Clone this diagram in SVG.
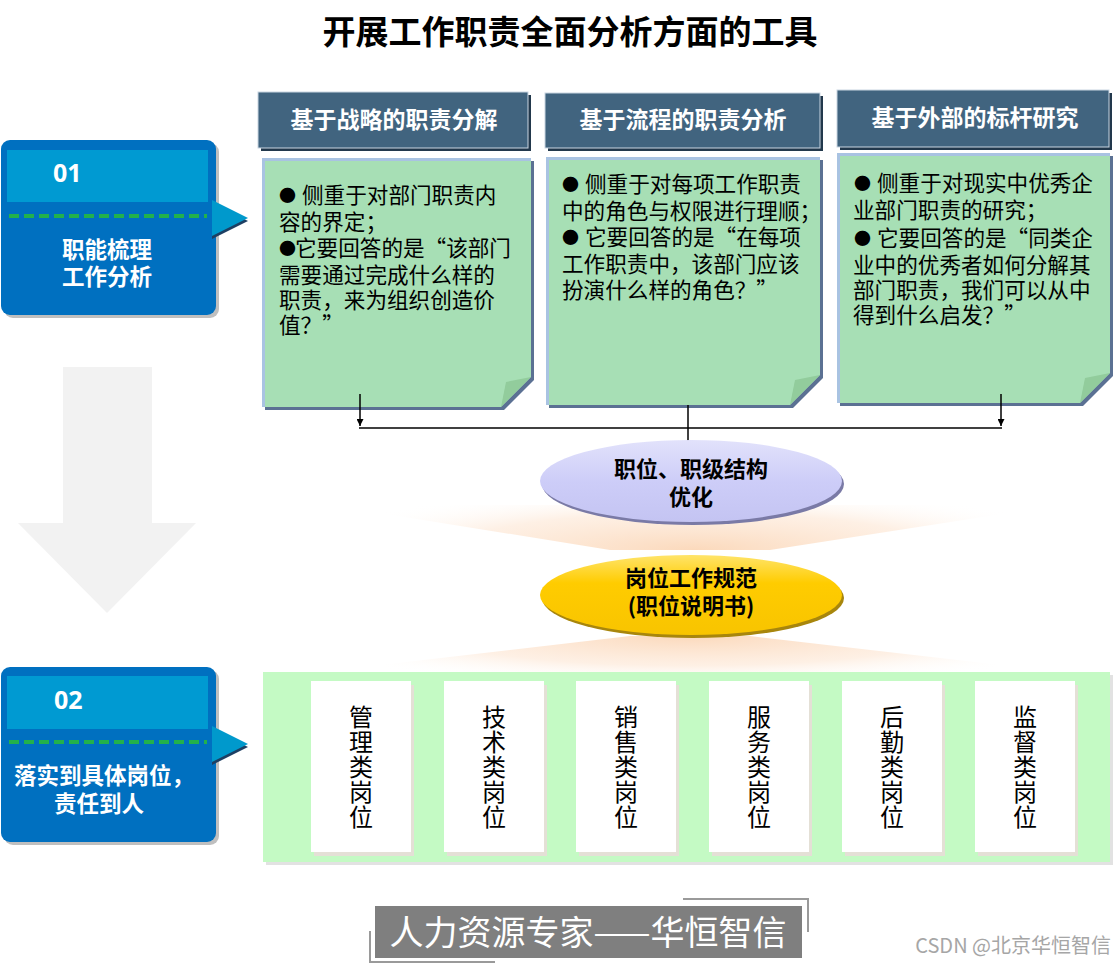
<svg xmlns="http://www.w3.org/2000/svg" width="1115" height="967" viewBox="0 0 1115 967">
<defs>
<style>
.cjk{font-family:"Noto Sans CJK SC","Liberation Sans",sans-serif;}
.title{font-size:33px;font-weight:bold;fill:#000;}
.hdr{font-size:23px;font-weight:bold;fill:#fff;}
.note{font-size:21.6px;fill:#000;}
.bul{font-size:17px;}
.side{font-size:22.5px;font-weight:bold;fill:#fff;}
.num{font-family:"Open Sans","Liberation Sans",sans-serif;font-size:25px;font-weight:bold;fill:#fff;}
.ell{font-size:22px;font-weight:bold;fill:#000;}
.vert{font-size:24px;fill:#000;writing-mode:vertical-rl;letter-spacing:1px;}
.hshadow{fill:#22384c;}
.hbox{fill:#41647f;stroke:#c9d5e2;stroke-width:1;}
.nshadow{fill:#5b7193;}
.nbox{fill:#a7dfb5;}
.nedge{fill:none;stroke:#a9c3e2;stroke-width:3;}
.fold{fill:#92cc9c;}
.card{fill:#fff;}
.cshadow{fill:#e4e0d6;}
.conn{stroke:#000;stroke-width:1.5;fill:none;}
</style>
<marker id="arr" viewBox="0 0 10 10" refX="10" refY="5" markerWidth="7" markerHeight="7" markerUnits="userSpaceOnUse" orient="auto">
<path d="M0,0 L10,5 L0,10 Z" fill="#000"/>
</marker>
<linearGradient id="lav" x1="0" y1="0" x2="0" y2="1">
<stop offset="0" stop-color="#e2e2fb"/>
<stop offset="0.5" stop-color="#cdcdf8"/>
<stop offset="1" stop-color="#c4c4f2"/>
</linearGradient>
<linearGradient id="gold" x1="0" y1="0" x2="0" y2="1">
<stop offset="0" stop-color="#ffe46a"/>
<stop offset="0.35" stop-color="#ffcc00"/>
<stop offset="1" stop-color="#f8c400"/>
</linearGradient>
<radialGradient id="peach1" cx="0.5" cy="1" r="0.55" gradientTransform="translate(0.5 1) scale(1 2.5) translate(-0.5 -1)">
<stop offset="0" stop-color="#fbd7b8" stop-opacity="0.95"/>
<stop offset="0.6" stop-color="#fde6d3" stop-opacity="0.6"/>
<stop offset="1" stop-color="#ffffff" stop-opacity="0"/>
</radialGradient>
<radialGradient id="peach2" cx="0.5" cy="0" r="0.55" gradientTransform="translate(0.5 0) scale(1 2.5) translate(-0.5 0)">
<stop offset="0" stop-color="#fbd7b8" stop-opacity="0.95"/>
<stop offset="0.6" stop-color="#fde6d3" stop-opacity="0.6"/>
<stop offset="1" stop-color="#ffffff" stop-opacity="0"/>
</radialGradient>
</defs>
<rect width="1115" height="967" fill="#fff"/>

<text class="cjk title" x="570" y="44" text-anchor="middle">开展工作职责全面分析方面的工具</text>

<!-- big gray arrow -->
<polygon id="bigArrow" points="63,367 152,367 152,523 196,523 107,613 18,523 63,523" fill="#f2f2f2"/>

<!-- side box 01 -->
<g id="side01">
<rect x="4" y="143" width="215" height="175" rx="9" fill="#8a8a8a" opacity="0.55"/>
<rect x="1" y="140" width="215" height="175" rx="9" fill="#0070c0"/>
<rect x="7" y="150" width="201" height="52" fill="#009ad2"/>
<line x1="9" y1="216" x2="207" y2="216" stroke="#22b14c" stroke-width="4" stroke-dasharray="10,5"/>
<polygon points="212,203 248,221 212,239" fill="#1d3f63"/>
<polygon points="212,200 248,218 212,236" fill="#0099cc"/>
<text class="num" x="53" y="182">01</text>
<text class="cjk side" x="107" y="258" text-anchor="middle">职能梳理</text>
<text class="cjk side" x="107" y="285" text-anchor="middle">工作分析</text>
</g>

<!-- side box 02 -->
<g id="side02">
<rect x="4" y="670" width="215" height="175" rx="9" fill="#8a8a8a" opacity="0.55"/>
<rect x="1" y="667" width="215" height="175" rx="9" fill="#0070c0"/>
<rect x="7" y="676" width="201" height="53" fill="#009ad2"/>
<line x1="9" y1="742" x2="207" y2="742" stroke="#22b14c" stroke-width="4" stroke-dasharray="10,5"/>
<polygon points="212,729 248,747 212,765" fill="#1d3f63"/>
<polygon points="212,726 248,744 212,762" fill="#0099cc"/>
<text class="num" x="54" y="709">02</text>
<text class="cjk side" x="104" y="784" text-anchor="middle">落实到具体岗位，</text>
<text class="cjk side" x="99" y="812" text-anchor="middle">责任到人</text>
</g>

<!-- header 1 + note 1 -->
<g id="col1">
<rect class="hshadow" x="261" y="95" width="270" height="56"/>
<rect class="hbox" x="258" y="92" width="270" height="56"/>
<text class="cjk hdr" x="394" y="128" text-anchor="middle">基于战略的职责分解</text>
<path class="nshadow" d="M265,161 H534 V380 L504,410 H265 Z"/>
<path class="nbox" d="M262,158 H531 V377 L501,407 H262 Z"/>
<path class="nedge" d="M263.5,407 V159.5 H531"/>
<polygon class="fold" points="501,407 506,382 531,377"/>
<text class="cjk note">
<tspan class="bul" x="279" y="202">●</tspan><tspan x="302" y="203">侧重于对部门职责内</tspan>
<tspan x="279" y="230">容的界定；</tspan>
<tspan class="bul" x="279" y="255">●</tspan><tspan x="295" y="256">它要回答的是“该部门</tspan>
<tspan x="279" y="283">需要通过完成什么样的</tspan>
<tspan x="279" y="308">职责，来为组织创造价</tspan>
<tspan x="279" y="333">值？”</tspan>
</text>
</g>

<!-- header 2 + note 2 -->
<g id="col2">
<rect class="hshadow" x="548" y="96" width="275" height="55"/>
<rect class="hbox" x="545" y="93" width="275" height="55"/>
<text class="cjk hdr" x="683" y="128" text-anchor="middle">基于流程的职责分析</text>
<path class="nshadow" d="M549,160 H823 V378 L793,408 H549 Z"/>
<path class="nbox" d="M546,157 H820 V375 L790,405 H546 Z"/>
<path class="nedge" d="M547.5,405 V158.5 H820"/>
<polygon class="fold" points="790,405 795,380 820,375"/>
<text class="cjk note">
<tspan class="bul" x="562" y="191">●</tspan><tspan x="585" y="192">侧重于对每项工作职责</tspan>
<tspan x="562" y="219">中的角色与权限进行理顺；</tspan>
<tspan class="bul" x="562" y="244">●</tspan><tspan x="585" y="245">它要回答的是“在每项</tspan>
<tspan x="562" y="272">工作职责中，该部门应该</tspan>
<tspan x="562" y="298">扮演什么样的角色？”</tspan>
</text>
</g>

<!-- header 3 + note 3 -->
<g id="col3">
<rect class="hshadow" x="840" y="93" width="272" height="57"/>
<rect class="hbox" x="837" y="90" width="272" height="57"/>
<text class="cjk hdr" x="975" y="126" text-anchor="middle">基于外部的标杆研究</text>
<path class="nshadow" d="M840,156 H1113 V376 L1083,406 H840 Z"/>
<path class="nbox" d="M837,153 H1110 V373 L1080,403 H837 Z"/>
<path class="nedge" d="M838.5,403 V154.5 H1110"/>
<polygon class="fold" points="1080,403 1085,378 1110,373"/>
<text class="cjk note">
<tspan class="bul" x="854" y="190">●</tspan><tspan x="877" y="191">侧重于对现实中优秀企</tspan>
<tspan x="853" y="218">业部门职责的研究；</tspan>
<tspan class="bul" x="854" y="245">●</tspan><tspan x="877" y="246">它要回答的是“同类企</tspan>
<tspan x="853" y="273">业中的优秀者如何分解其</tspan>
<tspan x="853" y="298">部门职责，我们可以从中</tspan>
<tspan x="853" y="323">得到什么启发？”</tspan>
</text>
</g>

<!-- connectors -->
<g id="connectors">
<line class="conn" x1="360" y1="394" x2="360" y2="426" marker-end="url(#arr)"/>
<line class="conn" x1="1001" y1="394" x2="1001" y2="426" marker-end="url(#arr)"/>
<line class="conn" x1="359" y1="428" x2="1002" y2="428"/>
<line class="conn" x1="688" y1="405" x2="688" y2="448" marker-end="url(#arr)"/>
</g>

<!-- peach glows -->
<polygon id="glow1" points="330,505 1060,505 770,550 610,550" fill="url(#peach1)"/>
<polygon id="glow2" points="630,636 750,636 1060,672 320,672" fill="url(#peach2)"/>

<!-- ellipse 1 -->
<g id="ell1">
<ellipse cx="693" cy="484" rx="151" ry="41" fill="#7a7aa6"/>
<ellipse cx="691" cy="481" rx="151" ry="41" fill="url(#lav)"/>
<text class="cjk ell" x="691" y="477" text-anchor="middle">职位、职级结构</text>
<text class="cjk ell" x="691" y="505" text-anchor="middle">优化</text>
</g>

<!-- ellipse 2 -->
<g id="ell2">
<ellipse cx="693" cy="598" rx="151" ry="40" fill="#a8860c"/>
<ellipse cx="691" cy="595" rx="151" ry="40" fill="url(#gold)"/>
<text class="cjk ell" x="691" y="586" text-anchor="middle">岗位工作规范</text>
<text class="cjk ell" x="691" y="614" text-anchor="middle">(职位说明书)</text>
</g>

<!-- bottom panel -->
<g id="panel">
<rect x="266" y="675" width="847" height="190" fill="#e2e2e2"/>
<rect x="263" y="672" width="847" height="190" fill="#c4fac4"/>
</g>
<g id="card1">
<rect class="cshadow" x="314" y="685" width="100" height="171"/>
<rect class="card" x="311" y="681" width="100" height="171"/>
<text class="cjk vert" x="361" y="705">管理类岗位</text>
</g>
<g id="card2">
<rect class="cshadow" x="447" y="685" width="100" height="171"/>
<rect class="card" x="444" y="681" width="100" height="171"/>
<text class="cjk vert" x="494" y="705">技术类岗位</text>
</g>
<g id="card3">
<rect class="cshadow" x="579" y="685" width="100" height="171"/>
<rect class="card" x="576" y="681" width="100" height="171"/>
<text class="cjk vert" x="626" y="705">销售类岗位</text>
</g>
<g id="card4">
<rect class="cshadow" x="712" y="685" width="100" height="171"/>
<rect class="card" x="709" y="681" width="100" height="171"/>
<text class="cjk vert" x="759" y="705">服务类岗位</text>
</g>
<g id="card5">
<rect class="cshadow" x="845" y="685" width="100" height="171"/>
<rect class="card" x="842" y="681" width="100" height="171"/>
<text class="cjk vert" x="892" y="705">后勤类岗位</text>
</g>
<g id="card6">
<rect class="cshadow" x="978" y="685" width="100" height="171"/>
<rect class="card" x="975" y="681" width="100" height="171"/>
<text class="cjk vert" x="1025" y="705">监督类岗位</text>
</g>

<!-- footer -->
<g id="footer">
<polyline points="683,899 808,899 808,932" fill="none" stroke="#9a9a9a" stroke-width="2"/>
<polyline points="370,931 370,962 495,962" fill="none" stroke="#9a9a9a" stroke-width="2"/>
<rect x="375" y="906" width="427" height="52" fill="#7f7f7f"/>
<text class="cjk" x="588" y="945" text-anchor="middle" font-size="34" fill="#fff">人力资源专家——华恒智信</text>
</g>
<text class="cjk" x="1111" y="953" text-anchor="end" font-size="20" fill="#a6a6a6">CSDN @北京华恒智信</text>
</svg>
